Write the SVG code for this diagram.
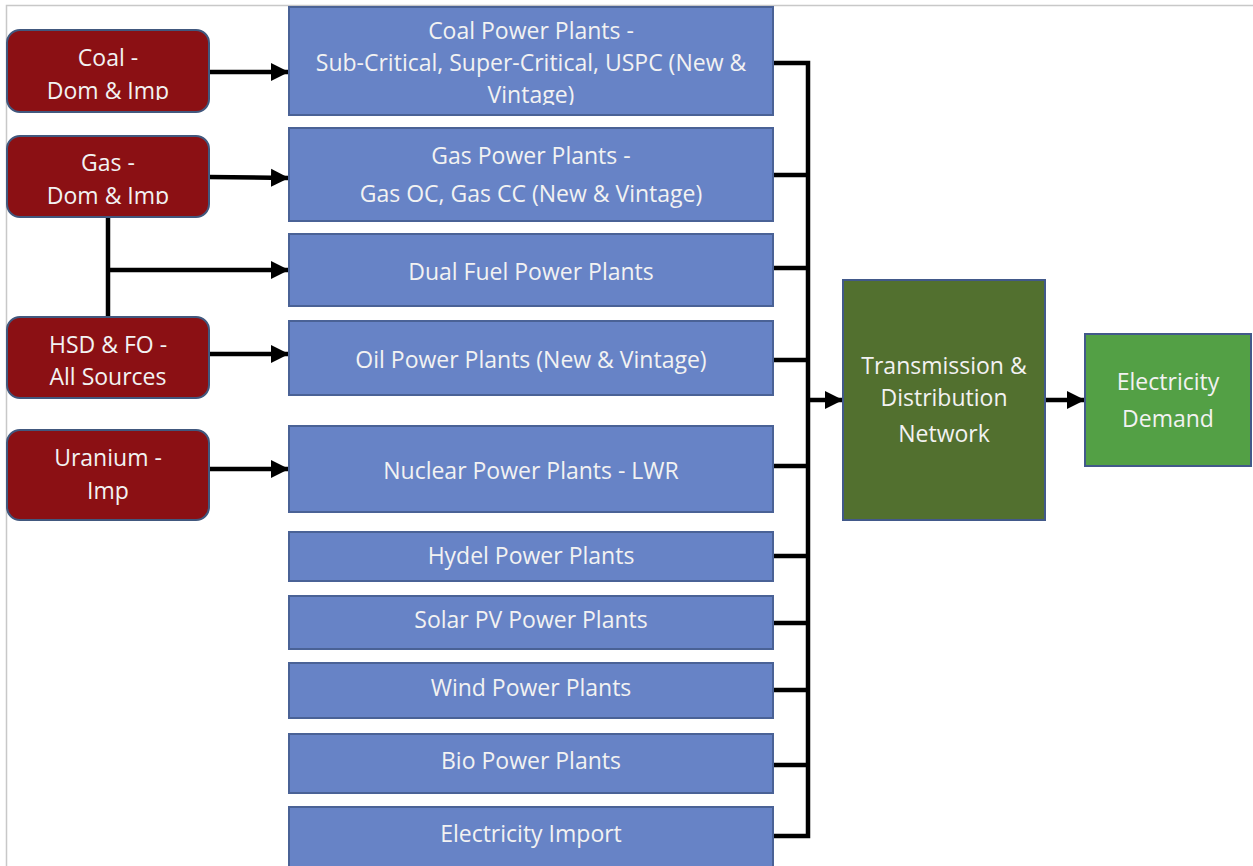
<svg xmlns="http://www.w3.org/2000/svg" width="1253" height="866" viewBox="0 0 1253 866">
<style>
.src{fill:#8B1014;stroke:#41587E;stroke-width:2}
.pp{fill:#6783C6;stroke:#4A6296;stroke-width:2}
.td{fill:#52702F;stroke:#42598A;stroke-width:2}
.dem{fill:#53A045;stroke:#42598A;stroke-width:2}
text{font-family:"Open Sans",Lato,"Liberation Sans",sans-serif;font-size:23px;fill:#F2F2F2;text-anchor:middle}
.ln{stroke:#000;stroke-width:4.5;fill:none}
.ar{stroke:#000;stroke-width:4.5;fill:none;marker-end:url(#ah)}
</style>
<defs>
<marker id="ah" markerUnits="userSpaceOnUse" markerWidth="22" markerHeight="22" refX="18" refY="11" orient="auto">
<path d="M0,2 L18,11 L0,20 Z" fill="#000"/>
</marker>
<clipPath id="c1"><rect x="0" y="0" width="300" height="100"/></clipPath>
<clipPath id="c2"><rect x="0" y="120" width="300" height="84"/></clipPath>
<clipPath id="c3"><rect x="0" y="300" width="300" height="85"/></clipPath>
<clipPath id="c4"><rect x="280" y="0" width="500" height="105"/></clipPath>
</defs>
<rect width="1253" height="866" fill="#fff"/>
<path d="M6.5,866 V5.5 H1253" stroke="#C8C8C8" stroke-width="1.5" fill="none"/>

<g id="connectors">
<path class="ar" d="M209,72 H289"/>
<path class="ar" d="M209,177 L289,178"/>
<path class="ln" d="M108,217 V317"/>
<path class="ar" d="M106,270 H289"/>
<path class="ar" d="M209,354 H289"/>
<path class="ar" d="M209,469 H289"/>
<path class="ln" d="M773,63 H808 V836 H773"/>
<path class="ln" d="M773,175 H808 M773,268 H808 M773,360 H808 M773,466 H808 M773,556 H808 M773,623 H808 M773,690 H808 M773,765 H808"/>
<path class="ar" d="M808,400 H843"/>
<path class="ar" d="M1045,400 H1085"/>
</g>

<g id="n-coal"><rect class="src" x="7" y="30" width="202" height="82" rx="13"/>
<g clip-path="url(#c1)"><text x="108" y="66">Coal -</text><text x="108" y="99">Dom &amp; Imp</text></g></g>
<g id="n-gas"><rect class="src" x="7" y="136" width="202" height="81" rx="13"/>
<g clip-path="url(#c2)"><text x="108" y="171">Gas -</text><text x="108" y="204">Dom &amp; Imp</text></g></g>
<g id="n-hsd"><rect class="src" x="7" y="317" width="202" height="81" rx="13"/>
<g clip-path="url(#c3)"><text x="108" y="353">HSD &amp; FO -</text><text x="108" y="385">All Sources</text></g></g>
<g id="n-uranium"><rect class="src" x="7" y="430" width="202" height="90" rx="13"/>
<text x="108" y="466">Uranium -</text><text x="108" y="499">Imp</text></g>

<g id="p-coal"><rect class="pp" x="289" y="7" width="484" height="108"/>
<g clip-path="url(#c4)"><text x="531" y="39">Coal Power Plants -</text><text x="531" y="71">Sub-Critical, Super-Critical, USPC (New &amp;</text><text x="531" y="103">Vintage)</text></g></g>
<g id="p-gas"><rect class="pp" x="289" y="128" width="484" height="93"/>
<text x="531" y="164">Gas Power Plants -</text><text x="531" y="202">Gas OC, Gas CC (New &amp; Vintage)</text></g>
<g id="p-dual"><rect class="pp" x="289" y="234" width="484" height="72"/><text x="531" y="280">Dual Fuel Power Plants</text></g>
<g id="p-oil"><rect class="pp" x="289" y="321" width="484" height="74"/><text x="531" y="368">Oil Power Plants (New &amp; Vintage)</text></g>
<g id="p-nuclear"><rect class="pp" x="289" y="426" width="484" height="86"/><text x="531" y="479">Nuclear Power Plants - LWR</text></g>
<g id="p-hydel"><rect class="pp" x="289" y="532" width="484" height="49"/><text x="531" y="564">Hydel Power Plants</text></g>
<g id="p-solar"><rect class="pp" x="289" y="596" width="484" height="53"/><text x="531" y="628">Solar PV Power Plants</text></g>
<g id="p-wind"><rect class="pp" x="289" y="663" width="484" height="55"/><text x="531" y="696">Wind Power Plants</text></g>
<g id="p-bio"><rect class="pp" x="289" y="734" width="484" height="59"/><text x="531" y="769">Bio Power Plants</text></g>
<g id="p-import"><rect class="pp" x="289" y="807" width="484" height="62"/><text x="531" y="842">Electricity Import</text></g>

<g id="n-td"><rect class="td" x="843" y="280" width="202" height="240"/>
<text x="944" y="374">Transmission &amp;</text><text x="944" y="406">Distribution</text><text x="944" y="442">Network</text></g>
<g id="n-demand"><rect class="dem" x="1085" y="334" width="166" height="132"/>
<text x="1168" y="390">Electricity</text><text x="1168" y="427">Demand</text></g>
</svg>
